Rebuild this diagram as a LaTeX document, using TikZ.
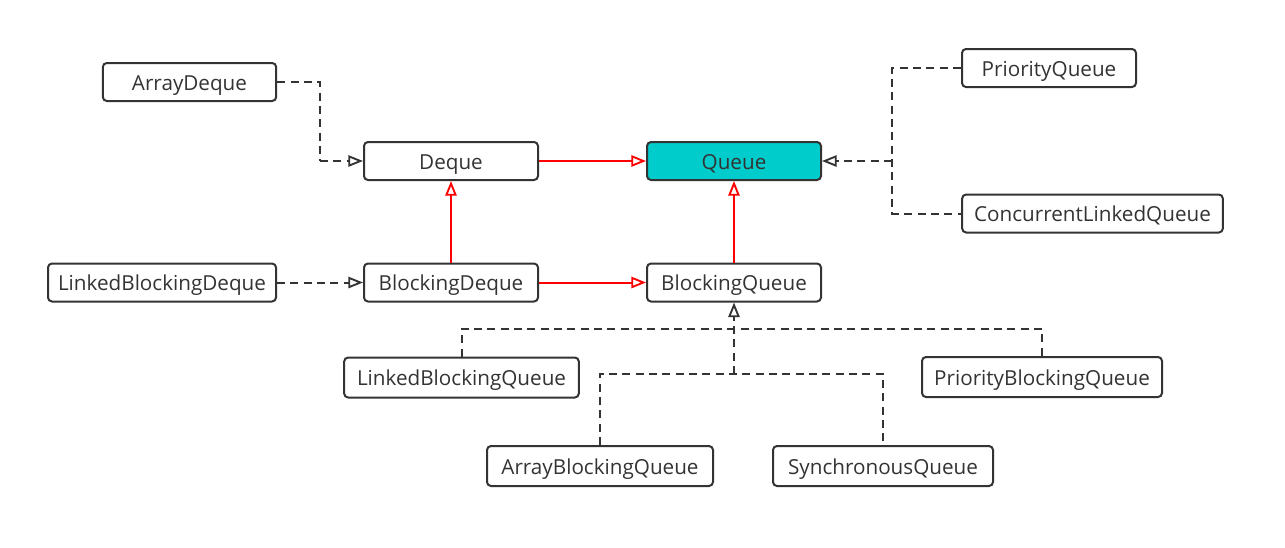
\documentclass[tikz,border=0pt]{standalone}
\usepackage{fontspec}
\setmainfont{Open Sans}
\usetikzlibrary{arrows.meta}
\definecolor{edge}{HTML}{333333}
\definecolor{teal}{HTML}{00CCCC}
\begin{document}
\begin{tikzpicture}[x=0.75pt,y=-0.75pt,
  box/.style={draw=edge,line width=1.5pt,rounded corners=3pt,minimum height=28.5pt,inner sep=0pt,text height=14pt,text depth=1.5pt,font=\fontsize{15.5}{18}\selectfont,text=edge},
  real/.style={red,line width=1.5pt,-{Triangle[open,length=11pt,width=8.5pt,line width=1.4pt]}},
  impl/.style={edge,line width=1.5pt,dash pattern=on 6pt off 4pt},
  impla/.style={impl,-{Triangle[open,length=11pt,width=8.5pt,line width=1.4pt]}}]
\useasboundingbox (0,0) rectangle (1285,547);
\node[box,minimum width=130pt] (ad) at (189.5,82) {ArrayDeque};
\node[box,minimum width=130.5pt] (dq) at (451,161) {Deque};
\node[box,minimum width=130.5pt,fill=teal] (q) at (734,161) {Queue};
\node[box,minimum width=130.5pt] (pq) at (1049,68) {PriorityQueue};
\node[box,minimum width=195.5pt] (clq) at (1092.5,213.5) {ConcurrentLinkedQueue};
\node[box,minimum width=171pt] (lbd) at (162,282.5) {LinkedBlockingDeque};
\node[box,minimum width=130.5pt] (bd) at (451,282.5) {BlockingDeque};
\node[box,minimum width=130.5pt] (bq) at (734,282.5) {BlockingQueue};
\node[box,minimum width=176pt,minimum height=30pt] (lbq) at (461.5,377.5) {LinkedBlockingQueue};
\node[box,minimum width=180pt,minimum height=30pt] (pbq) at (1042,377) {PriorityBlockingQueue};
\node[box,minimum width=169.5pt,minimum height=30pt] (abq) at (600,466) {ArrayBlockingQueue};
\node[box,minimum width=165pt,minimum height=30pt] (sq) at (883,466) {SynchronousQueue};
% coordinates
\coordinate (c1) at (320,82);
\coordinate (c2) at (320,161);
\coordinate (p1) at (892,68);
\coordinate (p2) at (892,161);
\coordinate (p3) at (892,213.5);
\coordinate (m1) at (461.5,329);
\coordinate (m2) at (1042,329);
\coordinate (m3) at (734,329);
\coordinate (n1) at (600,374);
\coordinate (n2) at (883,374);
\coordinate (n3) at (734,374);
% red edges
\draw[real] (dq) -- (q);
\draw[real] (bd) -- (dq);
\draw[real] (bq) -- (q);
\draw[real] (bd) -- (bq);
% dashed
\draw[impl] (ad.east) -- (c1) -- (c2);
\draw[impla] (c2) -- (dq.west);
\draw[impl] (pq.west) -- (p1) -- (p3) -- (clq.west);
\draw[impla] (p2) -- (q.east);
\draw[impla] (lbd) -- (bd);
\draw[impl] (lbq.north) -- (m1) -- (m2) -- (pbq.north);
\draw[impl] (abq.north) -- (n1) -- (n2) -- (sq.north);
\draw[impla] (n3) -- (bq.south);
\end{tikzpicture}
\end{document}
